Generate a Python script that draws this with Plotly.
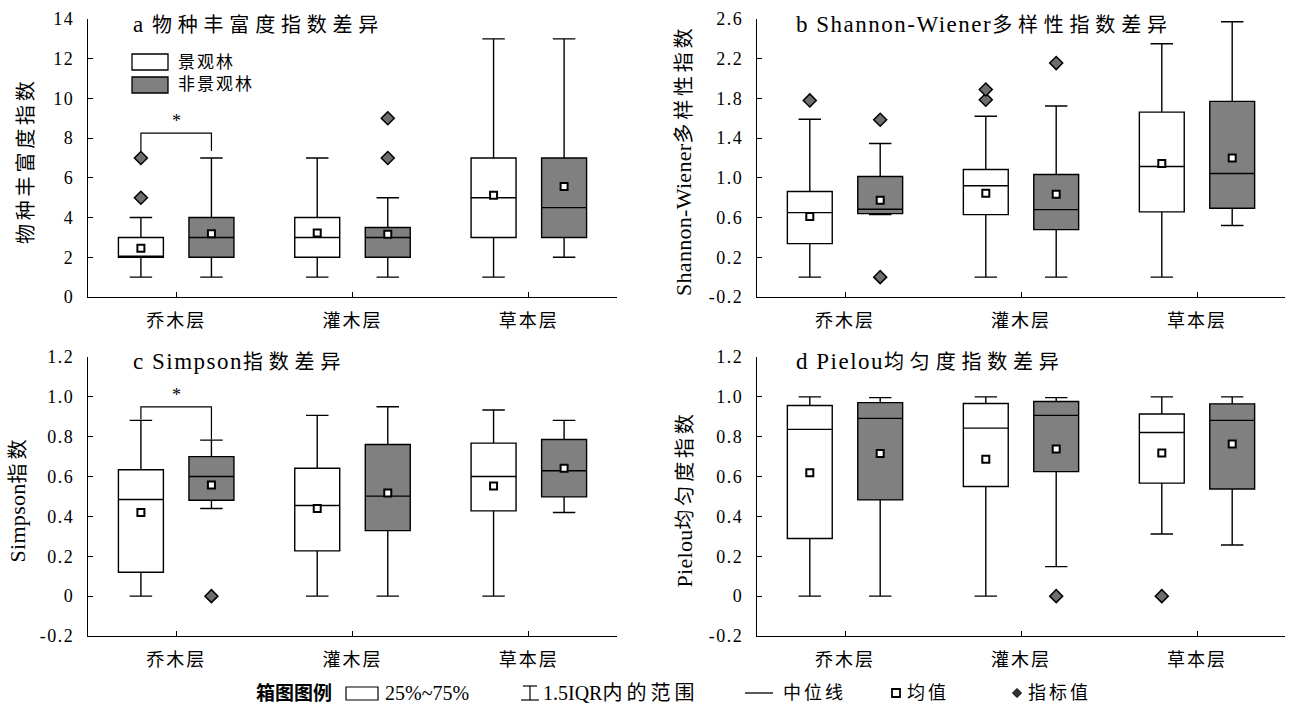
import plotly.graph_objects as go

W, H = 1291, 706
FONT = "Liberation Serif, Noto Sans CJK SC, serif"
INK = "#000000"
GRAY = "#808080"

categories = ["乔木层", "灌木层", "草本层"]
groups = ["景观林", "非景观林"]

# ---- a 物种丰富度指数 ----
rich_lower_jg = [1, 1, 1]
rich_q1_jg = [2, 2, 3]
rich_med_jg = [2, 3, 5]
rich_q3_jg = [3, 4, 7]
rich_upper_jg = [4, 7, 13]
rich_mean_jg = [2.45, 3.22, 5.13]
rich_out_jg = [[5, 7], [], []]
rich_lower_fj = [1, 1, 2]
rich_q1_fj = [2, 2, 3]
rich_med_fj = [3, 3, 4.5]
rich_q3_fj = [4, 3.5, 7]
rich_upper_fj = [7, 5, 13]
rich_mean_fj = [3.19, 3.16, 5.56]
rich_out_fj = [[], [7, 9], []]

# ---- b Shannon-Wiener ----
shan_lower_jg = [0, 0, 0]
shan_q1_jg = [0.338, 0.63, 0.657]
shan_med_jg = [0.65, 0.92, 1.114]
shan_q3_jg = [0.862, 1.084, 1.662]
shan_upper_jg = [1.59, 1.62, 2.35]
shan_mean_jg = [0.61, 0.845, 1.145]
shan_out_jg = [[1.78], [1.787, 1.89], []]
shan_lower_fj = [0.63, 0, 0.52]
shan_q1_fj = [0.64, 0.479, 0.694]
shan_med_fj = [0.684, 0.68, 1.044]
shan_q3_fj = [1.013, 1.034, 1.77]
shan_upper_fj = [1.346, 1.723, 2.573]
shan_mean_fj = [0.775, 0.835, 1.20]
shan_out_fj = [[0.0, 1.585], [2.156], []]

# ---- c Simpson ----
simp_lower_jg = [0, 0, 0]
simp_q1_jg = [0.12, 0.227, 0.428]
simp_med_jg = [0.485, 0.455, 0.6]
simp_q3_jg = [0.634, 0.642, 0.768]
simp_upper_jg = [0.882, 0.907, 0.934]
simp_mean_jg = [0.42, 0.44, 0.553]
simp_out_jg = [[], [], []]
simp_lower_fj = [0.44, 0, 0.42]
simp_q1_fj = [0.481, 0.329, 0.498]
simp_med_fj = [0.6, 0.502, 0.629]
simp_q3_fj = [0.70, 0.761, 0.786]
simp_upper_fj = [0.783, 0.95, 0.882]
simp_mean_fj = [0.558, 0.517, 0.642]
simp_out_fj = [[0], [], []]

# ---- d Pielou ----
piel_lower_jg = [0, 0, 0.312]
piel_q1_jg = [0.289, 0.55, 0.567]
piel_med_jg = [0.837, 0.843, 0.821]
piel_q3_jg = [0.957, 0.967, 0.914]
piel_upper_jg = [1.0, 1.0, 1.0]
piel_mean_jg = [0.619, 0.687, 0.718]
piel_out_jg = [[], [], [0]]
piel_lower_fj = [0, 0.148, 0.257]
piel_q1_fj = [0.483, 0.625, 0.538]
piel_med_fj = [0.892, 0.907, 0.882]
piel_q3_fj = [0.971, 0.977, 0.965]
piel_upper_fj = [0.996, 0.996, 1.0]
piel_mean_fj = [0.716, 0.738, 0.763]
piel_out_fj = [[], [0], []]

# significance brackets (left leg end, top, right leg end) on 乔木层
sig_a = [7.35, 8.25, 7.35]
sig_c = [0.887, 0.95, 0.786]

ticks_a = [0, 2, 4, 6, 8, 10, 12, 14]
ticks_b = [-0.2, 0.2, 0.6, 1.0, 1.4, 1.8, 2.2, 2.6]
ticks_cd = [-0.2, 0, 0.2, 0.4, 0.6, 0.8, 1.0, 1.2]
ticktext_a = ["0", "2", "4", "6", "8", "10", "12", "14"]
ticktext_b = ["-0.2", "0.2", "0.6", "1.0", "1.4", "1.8", "2.2", "2.6"]
ticktext_cd = ["-0.2", "0", "0.2", "0.4", "0.6", "0.8", "1.0", "1.2"]

OFF = 0.2
BOX_W = 0.255


def pxx(x):
    return x / W


def pxy(y):
    return 1 - y / H


def sp(txt, ls, size=None):
    st = f"letter-spacing:{ls}px"
    if size:
        st += f";font-size:{size}px"
    return f'<span style="{st}">{txt}</span>'


def title_txt(latin, cjk):
    return sp(latin, 1.5, 23) + sp(cjk, 5.8)


def ytitle_txt(latin, cjk):
    return (sp(latin, 0.3, 22) if latin else "") + sp(cjk, 3.8)


panels = [
    dict(ax="", title=title_txt("a ", "物种丰富度指数差异"), ytitle=ytitle_txt("", "物种丰富度指数"),
         rng=[0, 14], tv=ticks_a, tt=ticktext_a,
         xdom=(88, 617), ydom=(19, 297), ytx=26, tdx=43,
         jg=(rich_lower_jg, rich_q1_jg, rich_med_jg, rich_q3_jg, rich_upper_jg, rich_mean_jg, rich_out_jg),
         fj=(rich_lower_fj, rich_q1_fj, rich_med_fj, rich_q3_fj, rich_upper_fj, rich_mean_fj, rich_out_fj),
         sig=sig_a),
    dict(ax="2", title=title_txt("b Shannon-Wiener", "多样性指数差异"),
         ytitle=ytitle_txt("Shannon-Wiener", "多样性指数"),
         rng=[-0.2, 2.6], tv=ticks_b, tt=ticktext_b,
         xdom=(757, 1285), ydom=(19, 297), ytx=684, tdx=37,
         jg=(shan_lower_jg, shan_q1_jg, shan_med_jg, shan_q3_jg, shan_upper_jg, shan_mean_jg, shan_out_jg),
         fj=(shan_lower_fj, shan_q1_fj, shan_med_fj, shan_q3_fj, shan_upper_fj, shan_mean_fj, shan_out_fj),
         sig=None),
    dict(ax="3", title=title_txt("c Simpson", "指数差异"), ytitle=ytitle_txt("Simpson", "指数"),
         rng=[-0.2, 1.2], tv=ticks_cd, tt=ticktext_cd,
         xdom=(88, 617), ydom=(357, 636), ytx=17, tdx=43,
         jg=(simp_lower_jg, simp_q1_jg, simp_med_jg, simp_q3_jg, simp_upper_jg, simp_mean_jg, simp_out_jg),
         fj=(simp_lower_fj, simp_q1_fj, simp_med_fj, simp_q3_fj, simp_upper_fj, simp_mean_fj, simp_out_fj),
         sig=sig_c),
    dict(ax="4", title=title_txt("d Pielou", "均匀度指数差异"), ytitle=ytitle_txt("Pielou", "均匀度指数"),
         rng=[-0.2, 1.2], tv=ticks_cd, tt=ticktext_cd,
         xdom=(757, 1285), ydom=(357, 636), ytx=684, tdx=37,
         jg=(piel_lower_jg, piel_q1_jg, piel_med_jg, piel_q3_jg, piel_upper_jg, piel_mean_jg, piel_out_jg),
         fj=(piel_lower_fj, piel_q1_fj, piel_med_fj, piel_q3_fj, piel_upper_fj, piel_mean_fj, piel_out_fj),
         sig=None),
]

fig = go.Figure()
annotations = []
shapes = []
layout_axes = {}

for p in panels:
    xa, ya = "x" + p["ax"], "y" + p["ax"]
    for g, (key, fill, off) in enumerate([("jg", "white", -OFF), ("fj", GRAY, OFF)]):
        lo, q1, md, q3, up, mn, outs = p[key]
        xs = [i + off for i in range(len(categories))]
        fig.add_trace(go.Box(
            x=xs, q1=q1, median=md, q3=q3, lowerfence=lo, upperfence=up,
            width=BOX_W, whiskerwidth=0.5, fillcolor=fill,
            line=dict(color=INK, width=1.4), boxpoints=False,
            xaxis=xa, yaxis=ya, showlegend=False, hoverinfo="skip", name=groups[g]))
        ox, oy = [], []
        for i, vals in enumerate(outs):
            for v in vals:
                ox.append(i + off)
                oy.append(v)
        if ox:
            fig.add_trace(go.Scatter(
                x=ox, y=oy, mode="markers", xaxis=xa, yaxis=ya, showlegend=False,
                hoverinfo="skip", cliponaxis=False,
                marker=dict(symbol="diamond", size=10, color="#6e6e6e", line=dict(color=INK, width=1.5))))
        fig.add_trace(go.Scatter(
            x=xs, y=mn, mode="markers", xaxis=xa, yaxis=ya, showlegend=False,
            hoverinfo="skip",
            marker=dict(symbol="square", size=7, color="white", line=dict(color=INK, width=2))))
    if p["sig"]:
        s = p["sig"]
        fig.add_trace(go.Scatter(
            x=[-OFF, -OFF, OFF, OFF], y=[s[0], s[1], s[1], s[2]], mode="lines",
            line=dict(color=INK, width=1.2), xaxis=xa, yaxis=ya, showlegend=False,
            hoverinfo="skip"))
        annotations.append(dict(x=0, y=s[1], xref=xa, yref=ya, text="*", showarrow=False,
                                yanchor="bottom", yshift=0, font=dict(size=18, color=INK)))

    x0, x1 = p["xdom"]
    y0, y1 = p["ydom"]
    axis_common = dict(showline=True, linecolor=INK, linewidth=1.3, showgrid=False,
                       zeroline=False, ticks="inside", ticklen=5, tickwidth=1.3,
                       tickcolor=INK, automargin=False)
    layout_axes["xaxis" + p["ax"]] = dict(
        domain=[pxx(x0), pxx(x1)], range=[-0.5, 2.5], tickvals=[0, 1, 2],
        ticktext=[sp(c, 2) for c in categories], anchor=ya,
        tickfont=dict(size=18, color=INK, family=FONT),
        ticklabelstandoff=7, **axis_common)
    layout_axes["yaxis" + p["ax"]] = dict(
        domain=[pxy(y1), pxy(y0)], range=p["rng"], tickvals=p["tv"],
        ticktext=[sp(t, 1.5) for t in p["tt"]],
        anchor=xa, tickfont=dict(size=18, color=INK, family=FONT),
        ticklabelstandoff=9, **axis_common)
    # panel title
    annotations.append(dict(x=pxx(x0 + p["tdx"]), y=pxy(y0 + 5), xref="paper", yref="paper",
                            text=p["title"], showarrow=False, xanchor="left",
                            yanchor="middle", font=dict(size=20, color=INK, family=FONT)))
    # y title
    annotations.append(dict(x=pxx(p["ytx"]), y=pxy((y0 + y1) / 2 + 3), xref="paper", yref="paper",
                            text=p["ytitle"], showarrow=False, textangle=-90,
                            xanchor="center", yanchor="middle",
                            font=dict(size=20, color=INK, family=FONT)))

# in-panel legend (panel a)
for i, (fill, label) in enumerate([("white", groups[0]), (GRAY, groups[1])]):
    yc = 62 + i * 23
    shapes.append(dict(type="rect", xref="paper", yref="paper",
                       x0=pxx(132), x1=pxx(168), y0=pxy(yc + 8), y1=pxy(yc - 8),
                       fillcolor=fill, line=dict(color=INK, width=1.3)))
    annotations.append(dict(x=pxx(176), y=pxy(yc), xref="paper", yref="paper", text=sp(label, 2),
                            showarrow=False, xanchor="left", yanchor="middle",
                            font=dict(size=17, color=INK, family=FONT)))

# bottom legend
LY = 693
LF = dict(size=18, color=INK, family=FONT)
annotations.append(dict(x=pxx(254), y=pxy(LY), xref="paper", yref="paper",
                        text="<b>箱图图例</b>", showarrow=False, xanchor="left",
                        yanchor="middle", font=dict(size=19, color=INK, family=FONT)))
shapes.append(dict(type="rect", xref="paper", yref="paper", x0=pxx(346), x1=pxx(378),
                   y0=pxy(LY + 7), y1=pxy(LY - 6), fillcolor="white",
                   line=dict(color=INK, width=1.2)))
annotations.append(dict(x=pxx(383), y=pxy(LY), xref="paper", yref="paper",
                        text="25%~75%", showarrow=False, xanchor="left",
                        yanchor="middle", font=dict(size=20, color=INK, family=FONT)))
# whisker icon
shapes.append(dict(type="line", xref="paper", yref="paper", x0=pxx(530), x1=pxx(530),
                   y0=pxy(LY - 7), y1=pxy(LY + 7), line=dict(color=INK, width=1.2)))
shapes.append(dict(type="line", xref="paper", yref="paper", x0=pxx(523), x1=pxx(537),
                   y0=pxy(LY - 7), y1=pxy(LY - 7), line=dict(color=INK, width=1.2)))
shapes.append(dict(type="line", xref="paper", yref="paper", x0=pxx(521), x1=pxx(539),
                   y0=pxy(LY + 7), y1=pxy(LY + 7), line=dict(color=INK, width=1.2)))
annotations.append(dict(x=pxx(541), y=pxy(LY), xref="paper", yref="paper",
                        text="1.5IQR" + sp("内的范围", 4), showarrow=False, xanchor="left",
                        yanchor="middle", font=dict(size=20, color=INK, family=FONT)))
# median icon
shapes.append(dict(type="line", xref="paper", yref="paper", x0=pxx(745), x1=pxx(773),
                   y0=pxy(LY), y1=pxy(LY), line=dict(color=INK, width=1.3)))
annotations.append(dict(x=pxx(781), y=pxy(LY), xref="paper", yref="paper",
                        text=sp("中位线", 3), showarrow=False, xanchor="left",
                        yanchor="middle", font=LF))
# mean icon
shapes.append(dict(type="rect", xref="paper", yref="paper", x0=pxx(892), x1=pxx(900),
                   y0=pxy(LY + 4), y1=pxy(LY - 4), fillcolor="white",
                   line=dict(color=INK, width=1.8)))
annotations.append(dict(x=pxx(905), y=pxy(LY), xref="paper", yref="paper",
                        text=sp("均值", 3), showarrow=False, xanchor="left",
                        yanchor="middle", font=LF))
# outlier icon
dx, dy = 4.5 / W, 4.5 / H
cx, cy = pxx(1017), pxy(LY)
shapes.append(dict(type="path", xref="paper", yref="paper",
                   path=f"M {cx - dx} {cy} L {cx} {cy + dy} L {cx + dx} {cy} L {cx} {cy - dy} Z",
                   fillcolor="#333333", line=dict(color=INK, width=1)))
annotations.append(dict(x=pxx(1026), y=pxy(LY), xref="paper", yref="paper",
                        text=sp("指标值", 3), showarrow=False, xanchor="left",
                        yanchor="middle", font=LF))

fig.update_layout(
    template="none",
    width=W, height=H, margin=dict(l=0, r=0, t=0, b=0, pad=0, autoexpand=False),
    paper_bgcolor="white", plot_bgcolor="white",
    font=dict(family=FONT, color=INK), boxmode="overlay",
    annotations=annotations, shapes=shapes, **layout_axes)

fig.write_html("out.html", config={"displayModeBar": False},
               post_script="document.body.style.margin='0';document.body.style.overflow='hidden';")
